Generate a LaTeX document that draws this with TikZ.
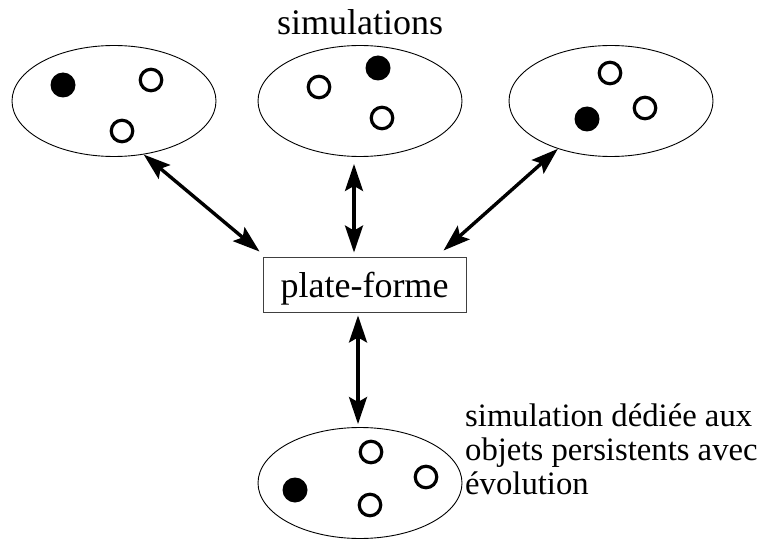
\documentclass[tikz,border=0pt]{standalone}
\usepackage{fontspec}
\setmainfont{Liberation Serif}
\usetikzlibrary{shapes.geometric,arrows.meta}
\begin{document}
\begin{tikzpicture}[x=1pt,y=-1pt,
  sim/.style={draw,ellipse,line width=0.9pt,minimum width=204pt,minimum height=111pt,inner sep=0pt},
  fdot/.style={circle,fill=black,minimum size=25pt,inner sep=0pt},
  odot/.style={circle,draw=black,line width=3.2pt,minimum size=21.5pt,inner sep=0pt},
  arr/.style={line width=3.4pt,{Stealth[length=27pt,width=18pt,inset=5pt]}-{Stealth[length=27pt,width=18pt,inset=5pt]}},
  big/.style={font=\fontsize{36}{40}\selectfont},
]
\useasboundingbox (0,0) rectangle (760,540);
% ellipses
\node[sim] (e1) at (114,101) {};
\node[sim] (e2) at (360,101) {};
\node[sim] (e3) at (611,101) {};
\node[sim] (e4) at (360,483) {};
% dots
\node[fdot] (d11) at (63,85) {};
\node[odot] (d12) at (151,80) {};
\node[odot] (d13) at (122,131) {};
\node[odot] (d21) at (319,87) {};
\node[fdot] (d22) at (378,68) {};
\node[odot] (d23) at (382,118) {};
\node[odot] (d31) at (610,73) {};
\node[odot] (d32) at (645,108) {};
\node[fdot] (d33) at (587,119) {};
\node[odot] (d41) at (371,452) {};
\node[odot] (d42) at (426,477) {};
\node[fdot] (d43) at (295,490) {};
\node[odot] (d44) at (370,505) {};
% labels
\node[big,anchor=base,inner sep=0pt] (title) at (360,35) {simulations};
\node[big,draw=black!75,line width=0.9pt,minimum width=203pt,minimum height=55pt,inner sep=0pt,text height=29pt,text depth=4pt] (box) at (364.5,284.5) {plate-forme};
\node[font=\fontsize{32.7}{34}\selectfont,align=left,anchor=base west,inner sep=0pt] (note) at (465,494) {simulation dédiée aux\\objets persistents avec\\évolution};
% arrows
\draw[arr] (e1.-61) -- ([xshift=-3pt,yshift=5pt]box.north west);
\draw[arr] ([xshift=-6pt,yshift=-7pt]e2.south) -- ([xshift=-10.5pt,yshift=4pt]box.north);
\draw[arr] (e3.-138) -- ([xshift=-23pt,yshift=6pt]box.north east);
\draw[arr] ([xshift=-6.5pt,yshift=-3pt]box.south) -- ([xshift=-2pt,yshift=3pt]e4.north);
\end{tikzpicture}
\end{document}
